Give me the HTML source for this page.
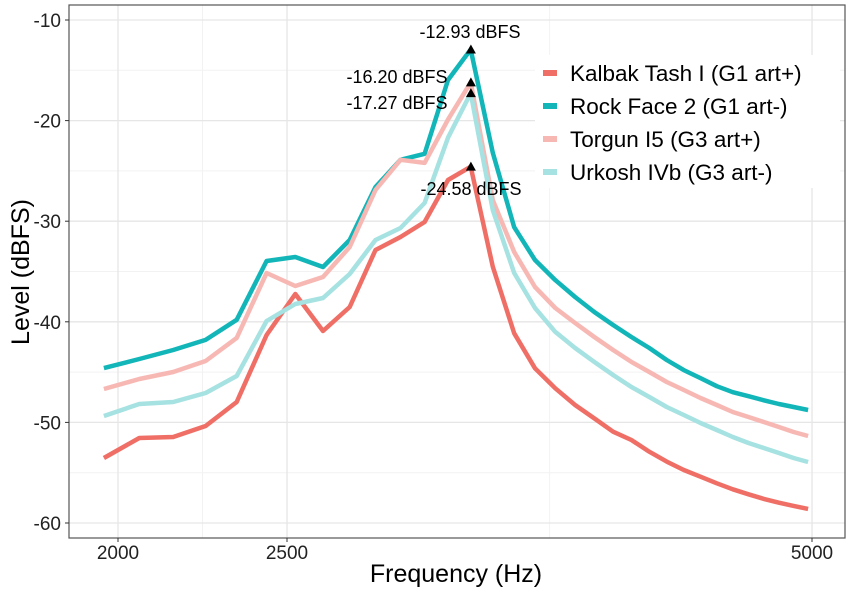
<!DOCTYPE html>
<html><head><meta charset="utf-8"><style>
body{margin:0;background:#fff;width:851px;height:591px;overflow:hidden}
svg{display:block;font-family:"Liberation Sans",sans-serif}
</style></head><body>
<svg id="chart" width="851" height="591"></svg>
<script>
const freqStart = 1963, freqStep = 94.1;
const seriesNames = ["Kalbak Tash I (G1 art+)","Rock Face 2 (G1 art-)","Torgun I5 (G3 art+)","Urkosh IVb (G3 art-)"];
const seriesColors = ["#ef6f66","#12b5b8","#f7b8b4","#a6e2e1"];
const kalbak = [-53.54,-51.55,-51.45,-50.36,-47.97,-41.31,-37.24,-40.91,-38.53,-32.86,-31.57,-30.08,-25.9,-24.58,-34.52,-41.14,-44.62,-46.61,-48.27,-49.6,-50.92,-51.75,-52.91,-53.9,-54.73,-55.4,-56.05,-56.65,-57.15,-57.6,-57.98,-58.3,-58.6];
const rockFace = [-44.6,-43.7,-42.8,-41.8,-39.8,-33.96,-33.56,-34.55,-31.87,-26.6,-23.9,-23.3,-15.96,-12.93,-23.2,-30.6,-33.86,-35.85,-37.53,-39.03,-40.32,-41.51,-42.6,-43.8,-44.8,-45.6,-46.4,-47.0,-47.4,-47.8,-48.17,-48.47,-48.77];
const torgun = [-46.68,-45.69,-44.99,-43.9,-41.6,-35.15,-36.44,-35.55,-32.56,-26.9,-23.9,-24.2,-19.9,-16.2,-27.9,-33.06,-36.54,-38.63,-40.12,-41.51,-42.8,-43.99,-44.99,-45.98,-46.78,-47.57,-48.27,-48.97,-49.46,-49.96,-50.46,-50.95,-51.35];
const urkosh = [-49.36,-48.17,-47.97,-47.08,-45.39,-39.92,-38.23,-37.63,-35.25,-31.87,-30.68,-28.19,-21.7,-17.27,-28.9,-35.15,-38.63,-41.0,-42.6,-43.99,-45.29,-46.48,-47.48,-48.47,-49.26,-50.06,-50.76,-51.45,-52.05,-52.54,-53.04,-53.54,-53.94];
const peakFreq = 3187;
const peakValues = [-24.58,-12.93,-16.2,-17.27];
const peakLabels = ["-24.58 dBFS","-12.93 dBFS","-16.20 dBFS","-17.27 dBFS"];
const xTicks = [2000,2500,5000];
const xMinor = [1789,2236,3536];
const yTicks = [-10,-20,-30,-40,-50,-60];
const yMinor = [-15,-25,-35,-45,-55];

const NS="http://www.w3.org/2000/svg";
const svg=document.getElementById('chart');
const PL=69,PR=845,PT=5,PB=538;
const xs=f=>118+1744*Math.log10(f/2000);
const ys=v=>20+(-10-v)*10.06;
function mk(t,a,p){const e=document.createElementNS(NS,t);for(const k in a)e.setAttribute(k,a[k]);(p||svg).appendChild(e);return e;}
const grid=mk('g',{});
yMinor.forEach(v=>mk('line',{x1:PL,x2:PR,y1:ys(v),y2:ys(v),stroke:'#f2f2f2','stroke-width':1},grid));
xMinor.forEach(f=>{if(xs(f)>PL)mk('line',{x1:xs(f),x2:xs(f),y1:PT,y2:PB,stroke:'#f2f2f2','stroke-width':1},grid);});
yTicks.forEach(v=>mk('line',{x1:PL,x2:PR,y1:ys(v),y2:ys(v),stroke:'#e6e6e6','stroke-width':1.3},grid));
xTicks.forEach(f=>mk('line',{x1:xs(f),x2:xs(f),y1:PT,y2:PB,stroke:'#e6e6e6','stroke-width':1.3},grid));
const allSeries=[kalbak,rockFace,torgun,urkosh];
[0,1,2,3].forEach(i=>{
  const pts=allSeries[i].map((v,k)=>xs(freqStart+freqStep*k).toFixed(1)+','+ys(v).toFixed(1)).join(' ');
  const l=mk('polyline',{points:pts,fill:'none',stroke:seriesColors[i],'stroke-width':4.5,'stroke-linejoin':'round'});
  
  
});
peakValues.forEach((v,i)=>{
  const x=xs(peakFreq),y=ys(v);
  const t=mk('polygon',{points:`${x-5},${y+4} ${x+5},${y+4} ${x},${y-5}`,fill:'#000'});
  
  
});
const lbl=[[470,38],[397,83],[397,109],[471,195]];
const lblIdx=[1,2,3,0];
lblIdx.forEach((i,j)=>{
  const t=mk('text',{x:lbl[j][0],y:lbl[j][1],'text-anchor':'middle','font-size':18,fill:'#000'});
  t.textContent=peakLabels[i];
  
  
});
mk('rect',{x:PL,y:PT,width:PR-PL,height:PB-PT,fill:'none',stroke:'#555','stroke-width':1.2});
yTicks.forEach(v=>{
  mk('line',{x1:PL-4,x2:PL,y1:ys(v),y2:ys(v),stroke:'#333'});
  const t=mk('text',{x:PL-8,y:ys(v)+7,'text-anchor':'end','font-size':19,fill:'#222'});t.textContent=v;
  
  
});
xTicks.forEach(f=>{
  mk('line',{x1:xs(f),x2:xs(f),y1:PB,y2:PB+4,stroke:'#333'});
  const t=mk('text',{x:xs(f),y:PB+21,'text-anchor':'middle','font-size':19,fill:'#222'});t.textContent=f;
  
  
});
const xt=mk('text',{x:456,y:582,'text-anchor':'middle','font-size':25,fill:'#000'});xt.textContent='Frequency (Hz)';


const yt=mk('text',{x:0,y:0,transform:'translate(29,272) rotate(-90)','text-anchor':'middle','font-size':25,fill:'#000'});yt.textContent='Level (dBFS)';


const lg=mk('g',{});


mk('rect',{x:535,y:55,width:305,height:133,fill:'#fff'},lg);
seriesNames.forEach((n,i)=>{
  const y=73+33*i;
  mk('rect',{x:543,y:y-3,width:14,height:6,fill:seriesColors[i]},lg);
  const t=mk('text',{x:570,y:y+8,'font-size':22.5,fill:'#000'},lg);t.textContent=n;
  
  
});
</script>
</body></html>
